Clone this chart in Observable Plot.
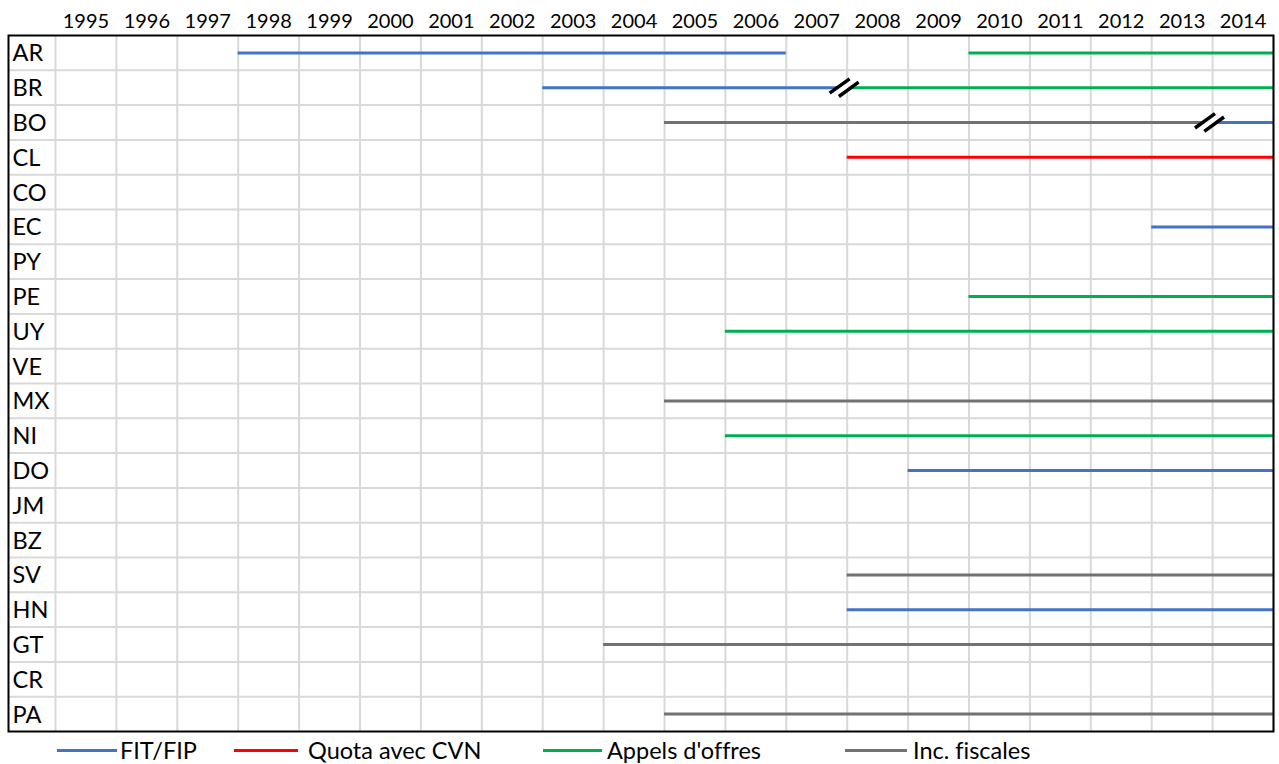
<!DOCTYPE html>
<html>
<head>
<meta charset="utf-8">
<script src="https://cdn.jsdelivr.net/npm/d3@7"></script>
<script src="https://cdn.jsdelivr.net/npm/@observablehq/plot@0.6"></script>
<style>
  html, body { margin: 0; padding: 0; background: #fff; }
  #chart { position: relative; width: 1279px; height: 764px; font-family: Lato, sans-serif; overflow: hidden; font-variant-ligatures: none; }
  #legend { position: absolute; left: 0; top: 740px; width: 1279px; height: 24px; }
  .lg-line { position: absolute; top: 9.2px; height: 3px; }
  .lg-text { position: absolute; top: -2px; font-size: 23.5px; line-height: 24px; color: #000; white-space: nowrap; font-variant-ligatures: none; font-feature-settings: "liga" 0; }
</style>
</head>
<body>
<div id="chart"></div>
<script>
// ---- Data ----
const countries = ["AR","BR","BO","CL","CO","EC","PY","PE","UY","VE","MX","NI","DO","JM","BZ","SV","HN","GT","CR","PA"];
const years = [1995,1996,1997,1998,1999,2000,2001,2002,2003,2004,2005,2006,2007,2008,2009,2010,2011,2012,2013,2014];
const instruments = ["FIT/FIP","Quota avec CVN","Appels d'offres","Inc. fiscales"];
const instrumentColors = ["#4472C4","#FF0000","#00B050","#767171"];

// Policy periods: country, instrument, first year, last year
const segCountry    = ["AR","AR","BR","BR","BO","BO","CL","EC","PE","UY","MX","NI","DO","SV","HN","GT","PA"];
const segInstrument = ["FIT/FIP","Appels d'offres","FIT/FIP","Appels d'offres","Inc. fiscales","FIT/FIP","Quota avec CVN","FIT/FIP","Appels d'offres","Appels d'offres","Inc. fiscales","Appels d'offres","FIT/FIP","Inc. fiscales","FIT/FIP","Inc. fiscales","Inc. fiscales"];
const segFirst      = [1998,2010,2003,2008,2005,2014,2008,2013,2010,2006,2005,2006,2009,2008,2008,2004,2005];
const segLast       = [2006,2014,2007,2014,2013,2014,2014,2014,2014,2014,2014,2014,2014,2014,2014,2014,2014];

// Policy switches (break marks)
const breakCountry = ["BR","BO"];
const breakYear    = [2008, 2014];

// ---- Build tables ----
const row = c => countries.indexOf(c);
const segments = segCountry.map((c, i) => ({country: c, instrument: segInstrument[i], first: segFirst[i], last: segLast[i]}));
const breaks = breakCountry.map((c, i) => ({country: c, year: breakYear[i]}));
const boundaries = years.concat([years[years.length - 1] + 1]);

const slashes = {draw(ctx) {
  ctx.moveTo(-14.6, 5.5); ctx.lineTo(5.4, -8.8);
  ctx.moveTo(-5.3, 8.8); ctx.lineTo(14.4, -5.5);
}};
const gapFill = {draw(ctx) {
  ctx.moveTo(-14.6, 5.5); ctx.lineTo(5.4, -8.8); ctx.lineTo(14.4, -5.5); ctx.lineTo(-5.3, 8.8); ctx.closePath();
}};

const plot = Plot.plot({
  width: 1279,
  height: 740,
  marginLeft: 8,
  marginRight: 6,
  marginTop: 35,
  marginBottom: 9,
  x: {domain: [years[0], years[years.length - 1] + 1], range: [55, 1273], axis: null},
  y: {domain: [-0.5, countries.length - 0.5], range: [35, 731], axis: null},
  color: {domain: instruments, range: instrumentColors},
  style: {fontFamily: "Lato, sans-serif", background: "white", overflow: "visible", color: "black"},
  marks: [
    Plot.ruleY(d3.range(1, countries.length).map(i => i - 0.5), {stroke: "#D9D9D9", strokeWidth: 2}),
    Plot.ruleX(boundaries, {stroke: "#D9D9D9", strokeWidth: 2}),
    Plot.ruleY(segments, {y: d => row(d.country), x1: "first", x2: d => d.last + 1, stroke: "instrument", strokeWidth: 3}),
    Plot.frame({stroke: "black", strokeWidth: 2}),
    Plot.dot(breaks, {x: "year", y: d => row(d.country), symbol: gapFill, fill: "white", stroke: "none", dx: -3}),
    Plot.dot(breaks, {x: "year", y: d => row(d.country), symbol: slashes, fill: "none", stroke: "black", strokeWidth: 3.5, dx: -3}),
    Plot.text(years, {x: d => d + 0.5, text: d => String(d), frameAnchor: "top", lineAnchor: "middle", dy: -14, fontSize: 20, fill: "black"}),
    Plot.text(countries, {y: (d, i) => i, text: d => d, frameAnchor: "left", textAnchor: "start", lineAnchor: "middle", dx: 4, dy: 1, fontSize: 23.5, fill: "black"})
  ]
});

const chart = document.getElementById("chart");
chart.appendChild(plot);

// ---- Legend (below the SVG) ----
const legendLayout = [
  {line: [57, 117], text: 120},
  {line: [234, 298], text: 308},
  {line: [543, 602], text: 607},
  {line: [845, 907], text: 913}
];
const legend = document.createElement("div");
legend.id = "legend";
instruments.forEach((name, i) => {
  const L = legendLayout[i];
  const ln = document.createElement("div");
  ln.className = "lg-line";
  ln.style.left = L.line[0] + "px";
  ln.style.width = (L.line[1] - L.line[0]) + "px";
  ln.style.background = instrumentColors[i];
  const tx = document.createElement("div");
  tx.className = "lg-text";
  tx.style.left = L.text + "px";
  tx.textContent = name;
  legend.appendChild(ln);
  legend.appendChild(tx);
});
chart.appendChild(legend);
</script>
</body>
</html>
